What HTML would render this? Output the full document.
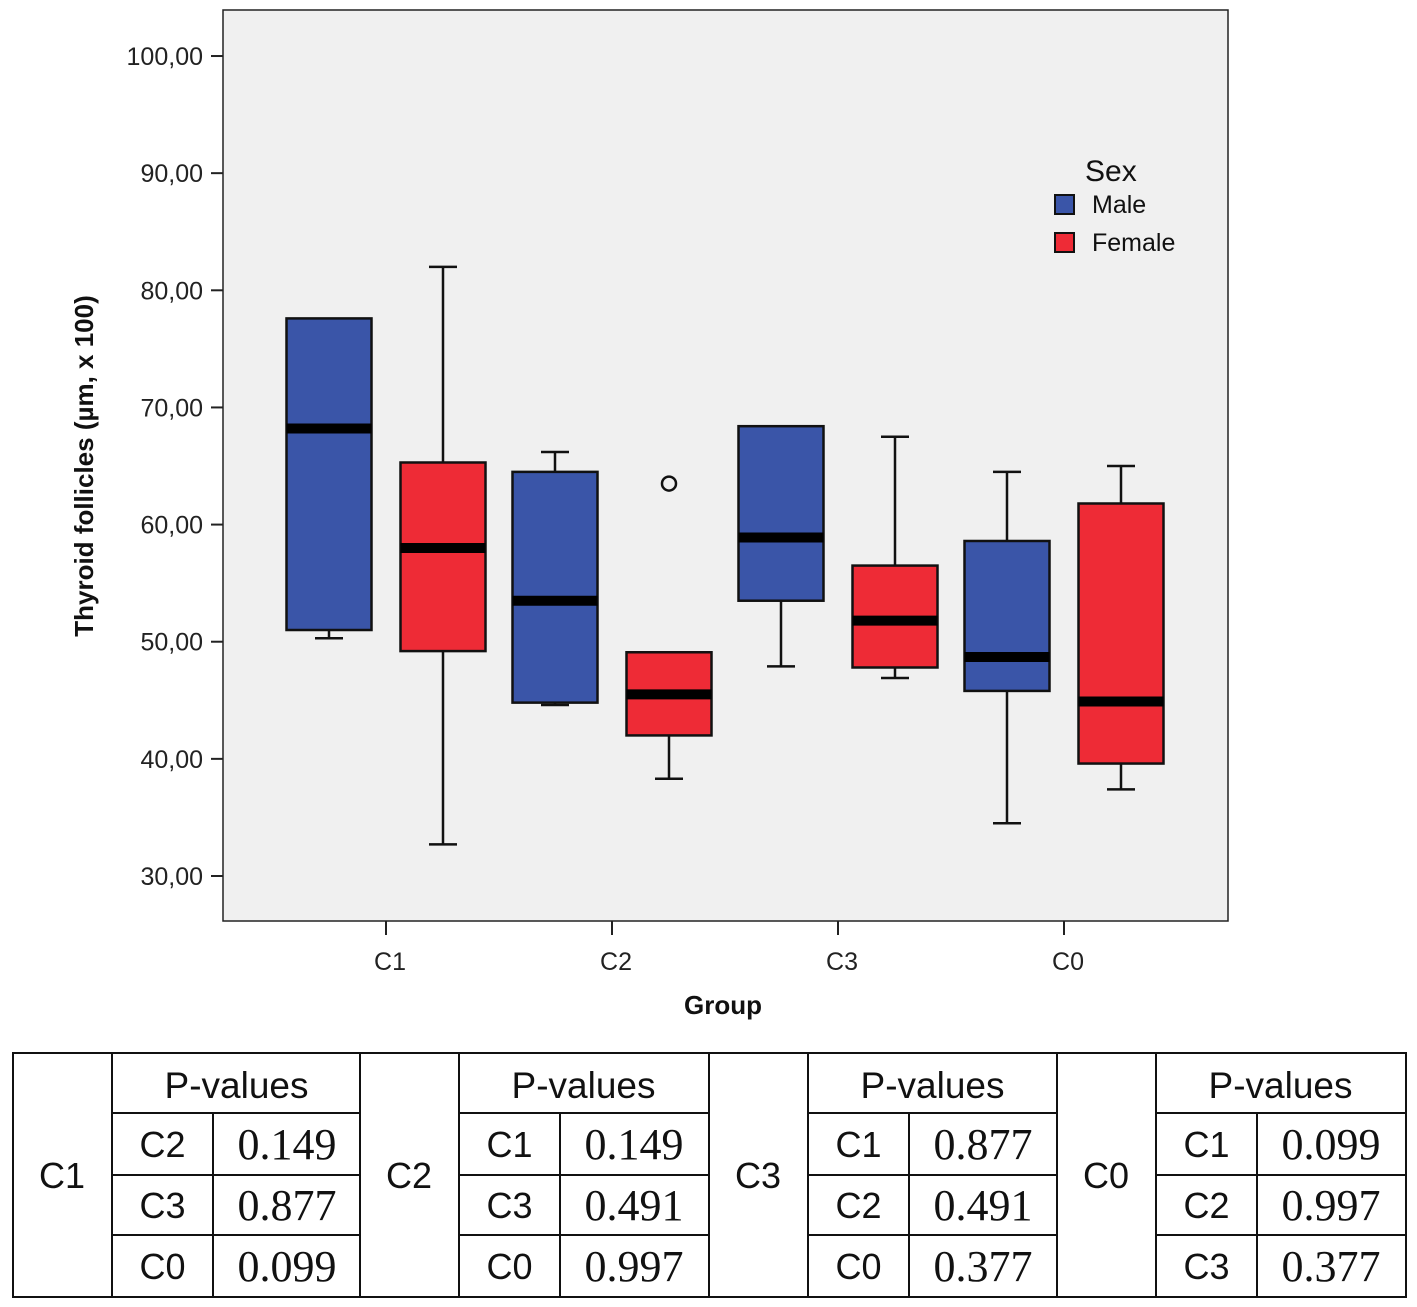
<!DOCTYPE html>
<html><head><meta charset="utf-8"><style>
body{margin:0;background:#fff}
svg{display:block}
</style></head><body>
<svg id="chart" width="1417" height="1307" xmlns="http://www.w3.org/2000/svg">
<rect x="223" y="10" width="1005" height="911" fill="#f0f0f0" stroke="#222" stroke-width="1.5"/>
<g id="yaxis"></g>
<g id="xaxis"></g>
<g id="boxes"></g>
<text transform="translate(93,466) rotate(-90)" text-anchor="middle" font-family="Liberation Sans, sans-serif" font-weight="bold" font-size="26" fill="#111">Thyroid follicles (µm, x 100)</text>
<text x="723" y="1014" text-anchor="middle" font-family="Liberation Sans, sans-serif" font-weight="bold" font-size="26" fill="#111">Group</text>
<g font-family="Liberation Sans, sans-serif" fill="#111">
<text x="1085" y="181" font-size="30">Sex</text>
<rect x="1055" y="195" width="19" height="19" fill="#3a55a8" stroke="#111" stroke-width="2"/>
<text x="1092" y="213" font-size="25">Male</text>
<rect x="1055" y="233" width="19" height="19" fill="#ee2b36" stroke="#111" stroke-width="2"/>
<text x="1092" y="251" font-size="25">Female</text>
</g>
<g id="table"></g>
</svg>
<script>
const groups=["C1","C2","C3","C0"];
const maleLow=[50.3,44.6,47.9,34.5];
const maleQ1=[51.0,44.8,53.5,45.8];
const maleMed=[68.2,53.5,58.9,48.7];
const maleQ3=[77.6,64.5,68.4,58.6];
const maleHigh=[77.6,66.2,68.4,64.5];
const femLow=[32.7,38.3,46.9,37.4];
const femQ1=[49.2,42.0,47.8,39.6];
const femMed=[58.0,45.5,51.8,44.9];
const femQ3=[65.3,49.1,56.5,61.8];
const femHigh=[82.0,49.1,67.5,65.0];
const outliers=[{g:1,s:1,v:63.5}];
const yTicks=[30,40,50,60,70,80,90,100];
const tableGroups=["C1","C2","C3","C0"];
const tableCompare=[["C2","C3","C0"],["C1","C3","C0"],["C1","C2","C0"],["C1","C2","C3"]];
const tableP=[["0.149","0.877","0.099"],["0.149","0.491","0.997"],["0.877","0.491","0.377"],["0.099","0.997","0.377"]];

const NS="http://www.w3.org/2000/svg";
function mk(tag,attrs,parent,text){const e=document.createElementNS(NS,tag);for(const k in attrs)e.setAttribute(k,attrs[k]);if(text!==undefined)e.textContent=text;parent.appendChild(e);return e;}
const y=v=>876-(v-30)*11.714;
const x=i=>386+i*226;
const ya=document.getElementById('yaxis');
yTicks.forEach(t=>{
  const l=mk('line',{x1:211,x2:223,y1:y(t),y2:y(t),stroke:'#222','stroke-width':2},ya);
  
  
  const tx=mk('text',{x:203,y:y(t)+9,'text-anchor':'end','font-family':'Liberation Sans, sans-serif','font-size':25,fill:'#222'},ya,t.toFixed(2).replace('.',','));
  
  
});
const xa=document.getElementById('xaxis');
groups.forEach((g,i)=>{
  const l=mk('line',{x1:x(i),x2:x(i),y1:921,y2:935,stroke:'#222','stroke-width':2},xa);
  
  
  const tx=mk('text',{x:x(i)+4,y:970,'text-anchor':'middle','font-family':'Liberation Sans, sans-serif','font-size':25,fill:'#222'},xa,g);
  
  
});
const bx=document.getElementById('boxes');
function box(cx,lo,q1,md,q3,hi,col,name){
  const g=mk('g',{},bx);
  
  
  const st={stroke:'#111','stroke-width':2.5};
  if(hi>q3){mk('line',{x1:cx,x2:cx,y1:y(hi),y2:y(q3),...st},g);mk('line',{x1:cx-14,x2:cx+14,y1:y(hi),y2:y(hi),...st},g);}
  if(lo<q1){mk('line',{x1:cx,x2:cx,y1:y(q1),y2:y(lo),...st},g);mk('line',{x1:cx-14,x2:cx+14,y1:y(lo),y2:y(lo),...st},g);}
  mk('rect',{x:cx-42.5,y:y(q3),width:85,height:y(q1)-y(q3),fill:col,...st},g);
  mk('line',{x1:cx-42.5,x2:cx+42.5,y1:y(md),y2:y(md),stroke:'#000','stroke-width':10},g);
}
groups.forEach((gname,i)=>{
  box(x(i)-57,maleLow[i],maleQ1[i],maleMed[i],maleQ3[i],maleHigh[i],'#3a55a8','box-'+gname.toLowerCase()+'-male');
  box(x(i)+57,femLow[i],femQ1[i],femMed[i],femQ3[i],femHigh[i],'#ee2b36','box-'+gname.toLowerCase()+'-female');
});
outliers.forEach(o=>{
  const c=mk('circle',{cx:x(o.g)+(o.s?57:-57),cy:y(o.v),r:7,fill:'none',stroke:'#111','stroke-width':2.5},bx);
  
  
});
const tb=document.getElementById('table');
const rows=[1053,1113,1175,1235,1297];
const blocks=[13,360,709,1057];
const sans='Liberation Sans, sans-serif', serif='Liberation Serif, serif';
const ls={stroke:'#111','stroke-width':2};
mk('rect',{x:13,y:1053,width:1393,height:244,fill:'none',...ls},tb);
blocks.forEach((bx0,b)=>{
  const c0=bx0+99, c1=c0+101, c2=bx0+348;
  mk('line',{x1:bx0,x2:bx0,y1:1053,y2:1297,...ls},tb);
  mk('line',{x1:c0,x2:c0,y1:1053,y2:1297,...ls},tb);
  mk('line',{x1:c1,x2:c1,y1:1113,y2:1297,...ls},tb);
  [1113,1175,1235].forEach(r=>mk('line',{x1:c0,x2:c2,y1:r,y2:r,...ls},tb));
  const gl=mk('text',{x:bx0+49,y:1188,'text-anchor':'middle','font-family':sans,'font-size':36,fill:'#111'},tb,tableGroups[b]);
  
  
  const h=mk('text',{x:(c0+c2)/2,y:1098,'text-anchor':'middle','font-family':sans,'font-size':37,fill:'#111'},tb,'P-values');
  
  
  for(let r=0;r<3;r++){
    const cy=(rows[r+1]+rows[r+2])/2+13;
    const a=mk('text',{x:(c0+c1)/2,y:cy,'text-anchor':'middle','font-family':sans,'font-size':36,fill:'#111'},tb,tableCompare[b][r]);
    
    
    const p=mk('text',{x:(c1+c2)/2,y:cy+2,'text-anchor':'middle','font-family':serif,'font-size':44,fill:'#111'},tb,tableP[b][r]);
    
    
  }
});
</script>
</body></html>
